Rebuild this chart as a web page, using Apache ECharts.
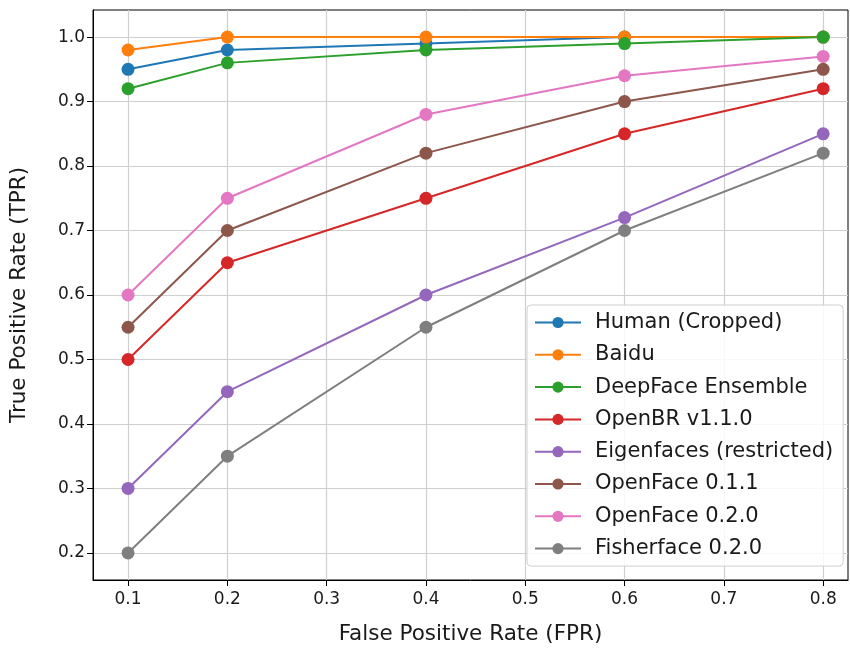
<!DOCTYPE html>
<html><head><meta charset="utf-8">
<script src="https://cdn.jsdelivr.net/npm/echarts@6/dist/echarts.min.js"></script>
<style>html,body{margin:0;padding:0;background:#fff}#c{width:850px;height:648px}</style>
</head><body><div id="c"></div>
<script>
const fpr = [0.1, 0.2, 0.4, 0.6, 0.8];
const xTicks = [0.1, 0.2, 0.3, 0.4, 0.5, 0.6, 0.7, 0.8];
const yTicks = [0.2, 0.3, 0.4, 0.5, 0.6, 0.7, 0.8, 0.9, 1.0];
const seriesNames = ["Human (Cropped)", "Baidu", "DeepFace Ensemble", "OpenBR v1.1.0", "Eigenfaces (restricted)", "OpenFace 0.1.1", "OpenFace 0.2.0", "Fisherface 0.2.0"];
const humanTPR = [0.95, 0.98, 0.99, 1.0, 1.0];
const baiduTPR = [0.98, 1.0, 1.0, 1.0, 1.0];
const deepfaceTPR = [0.92, 0.96, 0.98, 0.99, 1.0];
const openbrTPR = [0.50, 0.65, 0.75, 0.85, 0.92];
const eigenTPR = [0.30, 0.45, 0.60, 0.72, 0.85];
const openface011TPR = [0.55, 0.70, 0.82, 0.90, 0.95];
const openface020TPR = [0.60, 0.75, 0.88, 0.94, 0.97];
const fisherTPR = [0.20, 0.35, 0.55, 0.70, 0.82];
const allTPR = [humanTPR, baiduTPR, deepfaceTPR, openbrTPR, eigenTPR, openface011TPR, openface020TPR, fisherTPR];
const colors = ['#1f77b4', '#ff7f0e', '#2ca02c', '#d62728', '#9467bd', '#8c564b', '#e377c2', '#7f7f7f'];

const font = 'DejaVu Sans';
const chart = echarts.init(document.getElementById('c'));
chart.setOption({
  animation: false,
  color: colors,
  grid: { left: 93, right: 2, top: 10, bottom: 68, outerBoundsMode: 'none', containLabel: false, show: true, borderColor: '#000', borderWidth: 1, backgroundColor: 'transparent' },
  xAxis: {
    type: 'value', min: 0.0647, max: 0.825,
    name: 'False Positive Rate (FPR)', nameLocation: 'middle', nameGap: 43,
    nameTextStyle: { fontFamily: font, fontSize: 21.5, color: '#1a1a1a' },
    axisLine: { show: true, lineStyle: { color: '#000', width: 1 } },
    axisTick: { show: true, customValues: xTicks, length: 6, lineStyle: { color: '#000' } },
    axisLabel: { customValues: xTicks, formatter: v => v.toFixed(1), fontFamily: font, fontSize: 17, color: '#1a1a1a', margin: 11 },
    splitLine: { show: true, lineStyle: { color: '#cfcfcf', width: 1.2 } }
  },
  yAxis: {
    type: 'value', min: 0.158, max: 1.042,
    name: 'True Positive Rate (TPR)', nameLocation: 'middle', nameGap: 63, nameRotate: 90,
    nameTextStyle: { fontFamily: font, fontSize: 21.5, color: '#1a1a1a' },
    axisLine: { show: true, lineStyle: { color: '#000', width: 1 } },
    axisTick: { show: true, customValues: yTicks, length: 6, lineStyle: { color: '#000' } },
    axisLabel: { customValues: yTicks, formatter: v => v.toFixed(1), fontFamily: font, fontSize: 17, color: '#1a1a1a', margin: 8 },
    splitLine: { show: true, lineStyle: { color: '#cfcfcf', width: 1.2 } }
  },
  legend: {
    orient: 'vertical', left: 527, top: 305,
    padding: [7, 10, 7, 7], itemWidth: 46, itemHeight: 14, itemGap: 11.3,
    backgroundColor: 'rgba(255,255,255,0.85)', borderColor: '#d0d0d0', borderWidth: 1, borderRadius: 4,
    textStyle: { fontFamily: font, fontSize: 21, lineHeight: 21, color: '#1a1a1a', padding: [0, 0, 0, 9] },
    data: seriesNames
  },
  series: seriesNames.map((n, i) => ({
    name: n, type: 'line',
    data: fpr.map((x, j) => [x, allTPR[i][j]]),
    symbol: 'circle', symbolSize: 13,
    lineStyle: { width: 2, color: colors[i] },
    itemStyle: { color: colors[i] },
    emphasis: { disabled: true }
  }))
});
</script></body></html>
